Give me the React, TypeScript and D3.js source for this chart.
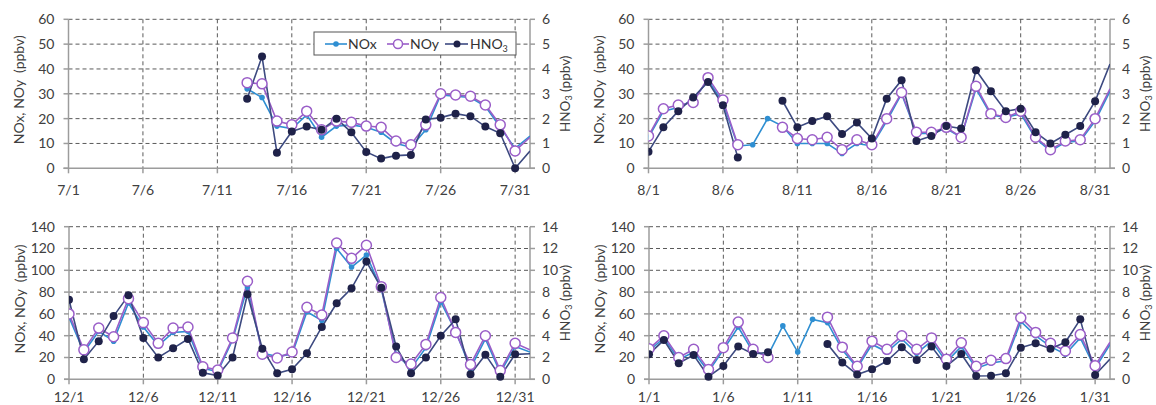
import React from 'react';
import * as d3 from 'd3';

// x ticks (day of month) and month prefixes for the four panels
const tickDays = [1, 6, 11, 16, 21, 26, 31];
const months = ['7', '8', '12', '1'];

const summerTicks = [0, 10, 20, 30, 40, 50, 60];
const summerTicksR = [0, 1, 2, 3, 4, 5, 6];
const winterTicks = [0, 20, 40, 60, 80, 100, 120, 140];
const winterTicksR = [0, 2, 4, 6, 8, 10, 12, 14];

type V = number | null;
const _ = null;

// values for day 1..32 (day 32 = first day of next month, cut by the frame)
const julNOx: V[] = [_, _, _, _, _, _, _, _, _, _, _, _, 32, 28.5, 17, 16, 21.5, 12.5, 17, 17.5, 16.5, 14.5, 10, 8.5, 15.5, 29.5, 29, 28.5, 25, 16.5, 8, 13];
const julNOy: V[] = [_, _, _, _, _, _, _, _, _, _, _, _, 34.5, 34, 19, 17.5, 23, 15.5, 19, 18.5, 17, 16.5, 11, 9.5, 17.5, 30, 29.5, 29, 25.5, 17.5, 7, 12.5];
const julHNO3: V[] = [_, _, _, _, _, _, _, _, _, _, _, _, 2.8, 4.5, 0.63, 1.48, 1.68, 1.55, 2.0, 1.45, 0.66, 0.39, 0.51, 0.54, 1.97, 2.04, 2.2, 2.1, 1.68, 1.41, 0.0, 0.7];

const augNOx: V[] = [12.5, 23, 24.5, 27.5, 35.5, 26.5, 9, 9.5, 20, 17, 10, 10, 10, 6, 10, 9, 19, 30, 14, 14, 16, 12.5, 32, 21.5, 20.5, 22, 12, 7, 10.5, 11, 19, 31];
const augNOy: V[] = [13, 24, 25.5, 26.5, 36.5, 27.5, 9.5, _, _, 16.5, 12, 11.5, 12.5, 7.5, 11.5, 9.5, 20, 30.5, 14.5, 14.5, 16.5, 12.5, 33, 22, 20.5, 23, 12.5, 7.5, 11, 11.5, 20, 32];
const augHNO3: V[] = [0.67, 1.65, 2.3, 2.85, 3.48, 2.54, 0.43, _, _, 2.72, 1.65, 1.9, 2.1, 1.38, 1.84, 1.2, 2.8, 3.55, 1.1, 1.3, 1.7, 1.6, 3.95, 3.1, 2.3, 2.4, 1.45, 1.0, 1.35, 1.7, 2.7, 4.2];

const decNOx: V[] = [57, 25, 44, 35, 70, 48, 31, 43, 44, 10, 7, 36, 85, 24, 21, 23, 62, 54, 120, 103, 114, 83, 23, 10, 29, 71, 44, 10, 37, 6, 30, 25];
const decNOy: V[] = [60, 27, 47, 39, 74, 52, 33, 47, 48, 11.5, 8.5, 38, 90, 23, 19.5, 25, 66, 59, 125, 111, 123, 85, 20, 14, 32, 75, 43, 13.5, 40, 8, 33, 27];
const decHNO3: V[] = [7.3, 1.83, 3.5, 5.8, 7.7, 3.8, 2.0, 2.84, 3.7, 0.6, 0.34, 2.0, 7.8, 2.8, 0.55, 0.92, 2.38, 4.8, 6.97, 8.35, 10.8, 8.4, 3.0, 0.55, 2.0, 4.0, 5.5, 0.46, 2.26, 0.24, 2.29, 2.35];

const janNOx: V[] = [26, 38, 18, 25, 7, 27, 48, 25, 22, 49, 25, 55, 52, 27, 10.5, 32, 25, 37, 24, 35, 16, 30, 10, 15, 17, 53, 40, 30, 23, 38, 10, 32];
const janNOy: V[] = [28, 40, 20, 27.5, 9, 29, 52.5, 27.5, 20, _, _, _, 57, 29.5, 12, 35, 27.5, 40, 27.5, 38, 18.5, 33.5, 12, 17.5, 19, 56.5, 43, 33, 26, 41, 12.5, 34];
const janHNO3: V[] = [2.3, 3.6, 1.47, 2.23, 0.24, 1.22, 3.0, 2.32, 2.48, _, _, _, 3.24, 1.53, 0.43, 0.92, 1.68, 2.94, 1.77, 3.0, 1.22, 2.32, 0.3, 0.33, 0.55, 2.9, 3.3, 2.81, 3.4, 5.5, 0.4, 1.85];

const C_NOX = '#2f8fd2';
const C_NOY = '#9a5ec8';
const C_HNO3_LINE = '#3d4a80';
const C_HNO3_DOT = '#1f2249';
const AXIS = '#9c9c9c';
const GRID = '#5a5a5a';
const TEXT = '#404040';
const FONT = 'Lato, "Open Sans", sans-serif';

type PanelProps = {
  id: string;
  x0: number; y0: number; w: number; h: number;
  ticks: number[]; ticksR: number[];
  month: string;
  nox: V[]; noy: V[]; hno3: V[];
  legend?: boolean;
  labelGap: number;
};

function Panel({ id, x0, y0, w, h, ticks, ticksR, month, nox, noy, hno3, legend, labelGap }: PanelProps) {
  const x = d3.scaleLinear().domain([1, 32]).range([x0, x0 + w]);
  const yL = d3.scaleLinear().domain([0, ticks[ticks.length - 1]]).range([y0 + h, y0]);
  const yR = d3.scaleLinear().domain([0, ticksR[ticksR.length - 1]]).range([y0 + h, y0]);

  const mk = (s: d3.ScaleLinear<number, number>) =>
    d3.line<V>().defined(v => v != null).x((_v, i) => x(i + 1)).y(v => s(v as number));

  const pts = (arr: V[]) => arr.map((v, i) => ({ v, d: i + 1 })).filter(p => p.v != null && p.d <= 31);

  return (
    <g>
      <defs>
        <clipPath id={id}>
          <rect x={x0} y={y0 - 6} width={w} height={h + 12} />
        </clipPath>
      </defs>
      {/* grid */}
      {ticks.filter(t => t > 0).map(t => (
        <line key={'h' + t} x1={x0} x2={x0 + w} y1={yL(t)} y2={yL(t)} stroke={GRID} strokeWidth={1} strokeDasharray="4,3" />
      ))}
      {tickDays.filter(d => d > 1).map(d => (
        <line key={'v' + d} x1={x(d)} x2={x(d)} y1={y0} y2={y0 + h} stroke={GRID} strokeWidth={1} strokeDasharray="4,3" />
      ))}
      {/* axes */}
      <line x1={x0} x2={x0} y1={y0} y2={y0 + h} stroke={AXIS} strokeWidth={1.5} />
      <line x1={x0 + w} x2={x0 + w} y1={y0} y2={y0 + h} stroke={AXIS} strokeWidth={1.5} />
      <line x1={x0 - 5} x2={x0 + w + 5} y1={y0 + h} y2={y0 + h} stroke={AXIS} strokeWidth={1.5} />
      {ticks.map(t => (
        <g key={'l' + t}>
          <line x1={x0 - 5} x2={x0} y1={yL(t)} y2={yL(t)} stroke={AXIS} strokeWidth={1.5} />
          <text x={x0 - 14} y={yL(t)} dy="0.35em" textAnchor="end" fontSize={14} fill={TEXT} fontFamily={FONT}>{t}</text>
        </g>
      ))}
      {ticksR.map(t => (
        <g key={'r' + t}>
          <line x1={x0 + w} x2={x0 + w + 5} y1={yR(t)} y2={yR(t)} stroke={AXIS} strokeWidth={1.5} />
          <text x={x0 + w + 12} y={yR(t)} dy="0.35em" textAnchor="start" fontSize={14} fill={TEXT} fontFamily={FONT}>{t}</text>
        </g>
      ))}
      {tickDays.map(d => (
        <g key={'x' + d}>
          <line x1={x(d)} x2={x(d)} y1={y0 + h} y2={y0 + h + 5} stroke={AXIS} strokeWidth={1.5} />
          <text x={x(d)} y={y0 + h + labelGap} textAnchor="middle" fontSize={14} fill={TEXT} fontFamily={FONT}>{`${month}/${d}`}</text>
        </g>
      ))}
      {/* axis titles */}
      <text transform={`translate(${x0 - 49},${y0 + h / 2 - 4}) rotate(-90)`} textAnchor="middle" dy="0.35em" fontSize={14} fill={TEXT} fontFamily={FONT}>
        NOx, NOy{'\u00a0\u00a0'}(ppbv)
      </text>
      <text transform={`translate(${x0 + w + 36},${y0 + h / 2}) rotate(-90)`} textAnchor="middle" dy="0.3em" fontSize={13.5} fill={TEXT} fontFamily={FONT}>
        HNO<tspan fontSize={9} dy="2">3</tspan><tspan dy="-2"> (ppbv)</tspan>
      </text>
      {/* series */}
      <g clipPath={`url(#${id})`}>
        <path d={mk(yL)(nox) || ''} fill="none" stroke={C_NOX} strokeWidth={1.6} />
        <path d={mk(yL)(noy) || ''} fill="none" stroke={C_NOY} strokeWidth={1.6} />
        <path d={mk(yR)(hno3) || ''} fill="none" stroke={C_HNO3_LINE} strokeWidth={1.6} />
        {pts(nox).map(p => <circle key={'a' + p.d} cx={x(p.d)} cy={yL(p.v as number)} r={2.8} fill={C_NOX} />)}
        {pts(noy).map(p => <circle key={'b' + p.d} cx={x(p.d)} cy={yL(p.v as number)} r={5} fill="#fff" stroke={C_NOY} strokeWidth={1.5} />)}
        {pts(hno3).map(p => <circle key={'c' + p.d} cx={x(p.d)} cy={yR(p.v as number)} r={4} fill={C_HNO3_DOT} />)}
      </g>
      {legend && (
        <g fontFamily={FONT} fontSize={14} fill="#333">
          <rect x={314} y={32} width={202} height={23} fill="#fff" stroke="#555" strokeWidth={1} />
          <line x1={325} x2={347} y1={44} y2={44} stroke={C_NOX} strokeWidth={1.6} />
          <circle cx={336} cy={44} r={2.8} fill={C_NOX} />
          <text x={348} y={44} dy="0.35em">NOx</text>
          <line x1={387} x2={409} y1={44} y2={44} stroke={C_NOY} strokeWidth={1.6} />
          <circle cx={398} cy={44} r={4.5} fill="#fff" stroke={C_NOY} strokeWidth={1.5} />
          <text x={410} y={44} dy="0.35em">NOy</text>
          <line x1={445} x2={468} y1={44} y2={44} stroke={C_HNO3_LINE} strokeWidth={1.6} />
          <circle cx={457} cy={44} r={3.5} fill={C_HNO3_DOT} />
          <text x={470} y={44} dy="0.35em">HNO<tspan fontSize={9} dy="3">3</tspan></text>
        </g>
      )}
    </g>
  );
}

export default function App() {
  return (
    <svg width={1156} height={405} style={{ position: 'fixed', left: 0, top: 0, background: '#fff' }}>
      <rect width={1156} height={405} fill="#fff" />
      <Panel id="c1" x0={68.5} y0={19.3} w={461.5} h={149} labelGap={27} ticks={summerTicks} ticksR={summerTicksR} month={months[0]} nox={julNOx} noy={julNOy} hno3={julHNO3} legend />
      <Panel id="c2" x0={648.5} y0={19.3} w={461.5} h={149} labelGap={27} ticks={summerTicks} ticksR={summerTicksR} month={months[1]} nox={augNOx} noy={augNOy} hno3={augHNO3} />
      <Panel id="c3" x0={69} y0={226.7} w={461} h={152.6} labelGap={23} ticks={winterTicks} ticksR={winterTicksR} month={months[2]} nox={decNOx} noy={decNOy} hno3={decHNO3} />
      <Panel id="c4" x0={649} y0={226.7} w={461} h={152.6} labelGap={23} ticks={winterTicks} ticksR={winterTicksR} month={months[3]} nox={janNOx} noy={janNOy} hno3={janHNO3} />
    </svg>
  );
}
